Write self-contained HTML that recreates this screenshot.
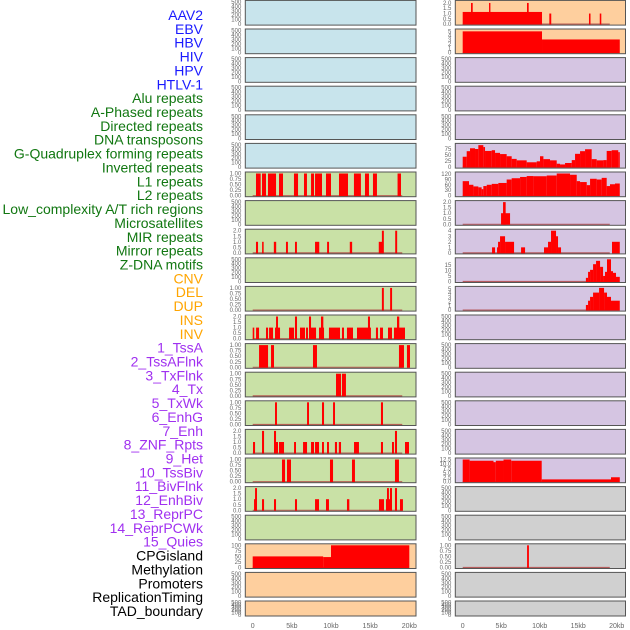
<!DOCTYPE html>
<html><head><meta charset="utf-8"><style>
html,body{margin:0;padding:0;background:#fff;}
svg{display:block;font-family:"Liberation Sans",sans-serif;}
</style></head><body>
<svg id="chart" width="630" height="630" viewBox="0 0 630 630" xmlns="http://www.w3.org/2000/svg"></svg>
<script>
const NS = "http://www.w3.org/2000/svg";
const svg = document.getElementById("chart");

// ---- feature labels ----
const labelNames = ["AAV2","EBV","HBV","HIV","HPV","HTLV-1","Alu repeats","A-Phased repeats","Directed repeats","DNA transposons","G-Quadruplex forming repeats","Inverted repeats","L1 repeats","L2 repeats","Low_complexity A/T rich regions","Microsatellites","MIR repeats","Mirror repeats","Z-DNA motifs","CNV","DEL","DUP","INS","INV","1_TssA","2_TssAFlnk","3_TxFlnk","4_Tx","5_TxWk","6_EnhG","7_Enh","8_ZNF_Rpts","9_Het","10_TssBiv","11_BivFlnk","12_EnhBiv","13_ReprPC","14_ReprPCWk","15_Quies","CPGisland","Methylation","Promoters","ReplicationTiming","TAD_boundary"];
const labelGroups = [6,13,5,15,5];
const groupColors = ["#1a1aff","#117711","#ffa500","#a030f0","#000000"];

// ---- x axis ----
const xTicks = [0,5,10,15,20];
const xTickLabels = ["0","5kb","10kb","15kb","20kb"];

// ---- left column bar data [startKb, endKb, value] ----
const leftL1 = [[0.42,1.02,1],[1.19,1.7,1],[1.95,2.98,1],[3.36,3.87,1],[5.27,5.79,1],[6.55,6.93,1],[7.45,7.83,1],[7.96,8.85,1],[9.36,10.0,1],[11.02,12.17,1],[12.93,13.82,1],[14.34,14.85,1],[15.36,15.87,1],[18.5,18.94,1]];
const leftLowComplex = [[0.42,0.68,1],[1.2,1.4,1],[2.7,3.0,1],[4.25,4.5,1],[5.4,5.65,1],[7.96,8.5,1],[9.5,9.75,1],[12.4,12.7,1],[16.1,16.6,1],[16.5,16.75,2],[18.2,18.45,2]];
const leftMirror = [[16.5,16.75,1],[17.55,17.8,1]];
const leftZdna = [[0,0.2,1],[0.43,0.81,1],[1.7,1.96,1],[2.09,2.6,1],[2.85,3.49,1],[4.64,5.28,1],[6.04,6.68,1],[6.81,7.06,1],[7.19,8.09,1],[8.47,9.11,1],[9.74,11.15,1],[11.4,11.66,1],[12.04,12.81,1],[13.32,15.1,1],[15.74,16.0,1],[16.26,16.64,1],[17.28,17.79,1],[18.04,19.45,1],[2.98,3.23,2],[5.4,5.66,2],[7.19,7.45,2],[8.72,9.02,2],[14.72,14.98,2],[18.43,18.72,2]];
const leftDel = [[0.81,1.96,1],[2.34,2.72,1],[7.7,8.21,1],[18.68,19.32,1],[19.7,20.09,1]];
const leftDup = [[10.64,11.28,1],[11.4,11.91,1]];
const leftIns = [[2.85,3.1,1],[6.94,7.19,1],[8.85,9.11,1],[10.26,10.51,1],[16.38,16.64,1]];
const leftInv = [[0.04,0.3,1],[2.72,3.23,1],[3.36,4.0,1],[5.28,5.53,1],[6.43,6.94,1],[7.45,7.83,1],[7.96,8.47,1],[8.85,9.1,1],[9.49,9.74,1],[10.5,10.77,1],[11.0,11.28,1],[12.94,13.57,1],[16.38,16.64,1],[17.79,18.04,1],[19.45,19.96,1],[1.19,1.45,2],[2.72,2.98,2],[18.17,18.43,2]];
const leftTssA = [[3.74,4.13,1],[4.38,4.89,1],[9.87,10.26,1],[12.68,13.06,1],[18.17,18.68,1]];
const leftTssAFlnk = [[0.17,0.55,1],[1.19,1.45,1],[2.72,2.98,1],[5.4,5.66,1],[7.96,8.47,1],[9.36,9.74,1],[12.04,12.34,1],[16.13,16.77,1],[17.02,17.79,1],[18.81,19.19,1],[0.3,0.55,2],[17.15,17.4,2],[17.53,17.79,2],[18.17,18.43,2]];
const leftCpg = [[0,9,50],[9,10,47],[10,20,100]];

// ---- right column bar data ----
const rightAav = [[0,10.3,1.15],[1.08,1.3,2],[3.42,3.6,2],[8.35,8.57,2],[11.25,11.5,1],[16.4,16.6,1],[17.8,18.0,1]];
const rightEbv = [[0,10.3,5],[10.3,20.4,3.1]];
const rightGquad = [[0,0.52,43],[0.52,0.95,66],[0.95,1.6,78],[1.6,2.03,75],[2.03,2.68,91],[2.68,2.9,83],[2.9,3.77,67],[3.77,4.2,70],[4.2,4.85,59],[4.85,5.71,54],[5.71,6.36,45],[6.36,7.01,34],[7.01,8.31,28],[8.31,9.61,20],[9.61,10.04,24],[10.04,10.48,45],[10.48,11.34,33],[11.34,12.21,28],[12.21,12.64,14],[12.64,13.29,11],[13.29,14.16,17],[14.16,14.59,29],[14.59,15.24,55],[15.24,15.89,66],[15.89,16.75,74],[16.75,17.4,33],[17.4,18.27,28],[18.27,18.7,29],[18.7,19.35,67],[19.35,20.2,70],[20.2,20.4,62]];
const rightInverted = [[0,0.82,80],[0.82,1.39,60],[1.39,2.03,51],[2.03,2.46,46],[2.46,2.68,36],[2.68,3.12,53],[3.12,3.77,60],[3.77,4.63,65],[4.63,5.71,70],[5.71,6.36,89],[6.36,7.45,96],[7.45,8.31,103],[8.31,9.18,108],[9.18,10.91,107],[10.91,12.21,111],[12.21,13.94,122],[13.94,14.81,115],[14.81,15.24,80],[15.24,16.11,75],[16.11,16.54,58],[16.54,17.4,93],[17.4,18.05,89],[18.05,18.7,98],[18.7,19.13,53],[19.13,19.78,63],[19.78,20.4,67]];
const rightL2 = [[4.98,6.15,1],[5.24,5.58,2]];
const rightMir = [[3.81,4.2,1],[4.46,4.72,1],[4.59,4.85,2],[4.85,5.5,3],[5.5,6.67,2],[7.58,8.1,1],[10.56,11.08,1],[11.08,11.47,2],[11.47,12.12,4],[12.12,12.38,3],[12.38,12.77,1],[19.39,20.4,2]];
const rightZdna = [[16.0,16.28,3.3],[16.28,16.54,8.7],[16.54,16.93,10.5],[16.93,17.32,15.6],[17.32,17.84,18.6],[17.84,18.23,13.2],[18.23,18.48,5],[18.48,18.74,8.7],[18.74,19.26,20],[19.26,19.52,9.3],[19.52,19.91,7.8],[19.91,20.4,4.2]];
const rightCnv = [[16.0,16.28,1.2],[16.28,16.54,2.2],[16.54,16.93,3.1],[16.93,17.71,4.1],[17.71,18.36,5.2],[18.36,18.74,4.1],[18.74,19.26,3.1],[19.26,20.4,2.2]];
const rightHet = [[0,0.9,12.5],[0.9,4.0,11.8],[4.0,4.3,11],[4.3,5.3,11.8],[5.3,6.3,12.5],[6.3,10.26,11.8],[10.26,19.26,1.3],[19.26,20.4,2.5]];
const rightMeth = [[8.36,8.6,1]];

// ---- y tick label sets ----
const ticksEmpty = ["0","100","200","300","400","500"];
const ticksOne = ["0.00","0.25","0.50","0.75","1.00"];
const ticksTwo = ["0.0","0.5","1.0","1.5","2.0"];

// panel definitions: [bars, yMax, tickLabels, tickMax]
const leftPanels = [
 [null,500,ticksEmpty,500],[null,500,ticksEmpty,500],[null,500,ticksEmpty,500],[null,500,ticksEmpty,500],[null,500,ticksEmpty,500],[null,500,ticksEmpty,500],
 [leftL1,1,ticksOne,1],[null,500,ticksEmpty,500],[leftLowComplex,2,ticksTwo,2],[null,500,ticksEmpty,500],[leftMirror,1,ticksOne,1],
 [leftZdna,2,ticksTwo,2],[leftDel,1,ticksOne,1],[leftDup,1,ticksOne,1],[leftIns,1,ticksOne,1],[leftInv,2,ticksTwo,2],[leftTssA,1,ticksOne,1],[leftTssAFlnk,2,ticksTwo,2],
 [null,500,ticksEmpty,500],[leftCpg,100,["0","25","50","75","100"],100],[null,500,ticksEmpty,500],[null,500,ticksEmpty,500]
];
const leftColors = ["#c8e4ec","#c8e4ec","#c8e4ec","#c8e4ec","#c8e4ec","#c8e4ec","#c9e1a6","#c9e1a6","#c9e1a6","#c9e1a6","#c9e1a6","#c9e1a6","#c9e1a6","#c9e1a6","#c9e1a6","#c9e1a6","#c9e1a6","#c9e1a6","#c9e1a6","#fecf9e","#fecf9e","#fecf9e"];
const rightPanels = [
 [rightAav,2.1,ticksTwo,2],[rightEbv,5.2,["0","1","2","3","4","5"],5],[null,500,ticksEmpty,500],[null,500,ticksEmpty,500],[null,500,ticksEmpty,500],
 [rightGquad,92,["0","25","50","75"],75],[rightInverted,122,["0","30","60","90","120"],120],[rightL2,2,ticksTwo,2],[rightMir,4,["0","1","2","3","4"],4],
 [rightZdna,20,["0","5","10","15"],15],[rightCnv,5.2,["0","1","2","3","4","5"],5],
 [null,500,ticksEmpty,500],[null,500,ticksEmpty,500],[null,500,ticksEmpty,500],[null,500,ticksEmpty,500],[null,500,ticksEmpty,500],
 [rightHet,12.5,["0.0","2.5","5.0","7.5","10.0","12.5"],12.5],[null,500,ticksEmpty,500],[null,500,ticksEmpty,500],[rightMeth,1,ticksOne,1],[null,500,ticksEmpty,500],[null,500,ticksEmpty,500]
];
const rightColors = ["#fecf9e","#fecf9e","#d5c5e2","#d5c5e2","#d5c5e2","#d5c5e2","#d5c5e2","#d5c5e2","#d5c5e2","#d5c5e2","#d5c5e2","#d5c5e2","#d5c5e2","#d5c5e2","#d5c5e2","#d5c5e2","#d5c5e2","#d0d0d0","#d0d0d0","#d0d0d0","#d0d0d0","#d0d0d0"];

function mk(tag, attrs, parent){ const e=document.createElementNS(NS,tag); for(const k in attrs) e.setAttribute(k,attrs[k]); (parent||svg).appendChild(e); return e; }

// labels
let li=0;
labelGroups.forEach((n,g)=>{ for(let i=0;i<n;i++){
  const t=mk("text",{x:203,y:20+li*13.86,"text-anchor":"end","font-size":"14",fill:groupColors[g]});
  t.textContent=labelNames[li];
  
  
  li++; }});

function drawColumn(panels, colors, x0, x1, d0, d1, side){
  const xs = kb => d0 + (d1-d0)*kb/20;
  panels.forEach((p,k)=>{
    const top=0.4+28.6*k, h = k===21?15:24.7, bot=top+h;
    const g=mk("g",{});
    
    
    mk("rect",{x:x0,y:top,width:x1-x0,height:h,fill:colors[k]},g);
    const [bars,yMax,tl,tMax]=p;
    const ys = v => (bot-1) - (h-2.5)*v/yMax;
    tl.forEach((lab,i)=>{
      const v=tMax*i/(tl.length-1);
      const t=mk("text",{x:x0-4,y:ys(v)+2,"text-anchor":"end","font-size":"6",fill:"#666"},g);
      t.textContent=lab;
      
      
    });
    if(bars){
      mk("line",{x1:xs(0),x2:xs(19.1),y1:bot-1,y2:bot-1,stroke:"#b04040","stroke-width":1.2,opacity:0.8},g);
      bars.forEach(b=>{
        const r=mk("rect",{x:xs(b[0]),y:ys(b[2]),width:Math.max(0.8,xs(b[1])-xs(b[0])),height:(bot-1)-ys(b[2])+0.5,fill:"#ff0000"},g);
        
        
      });
    }
    mk("rect",{x:x0,y:top,width:x1-x0,height:h,fill:"none",stroke:"#555","stroke-width":1},g);
  });
  xTicks.forEach((v,i)=>{
    const t=mk("text",{x:xs(v),y:628,"text-anchor":"middle","font-size":"7",fill:"#666"});
    t.textContent=xTickLabels[i];
    
    
  });
}
drawColumn(leftPanels,leftColors,245.3,416,252.7,409.3,'left');
drawColumn(rightPanels,rightColors,455.3,625.5,462.7,616.7,'right');
</script>
</body></html>
